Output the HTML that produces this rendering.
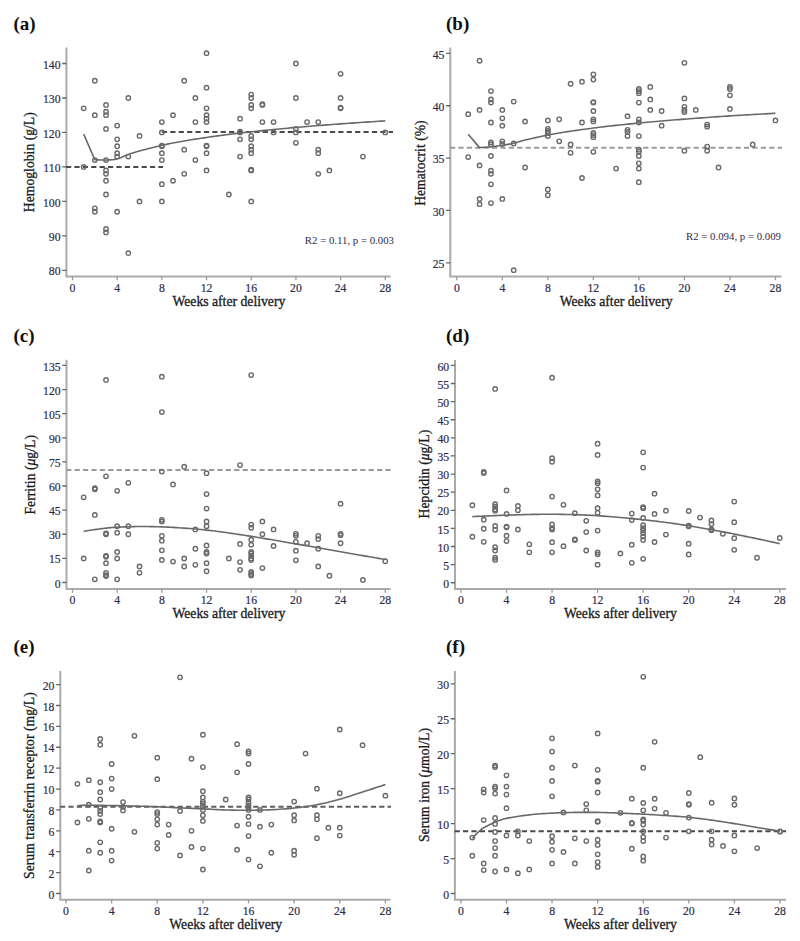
<!DOCTYPE html>
<html><head><meta charset="utf-8"><title>Figure</title>
<style>
html,body{margin:0;padding:0;background:#fff;}
body{width:800px;height:941px;overflow:hidden;}
svg{display:block;font-family:"Liberation Serif",serif;}
</style></head>
<body>
<svg width="800" height="941" viewBox="0 0 800 941">
<rect width="800" height="941" fill="#fff"/>
<path d="M66.4 47.5V276.5H390.6" fill="none" stroke="#aaaaaa" stroke-width="2"/>
<path d="M62.2 270.38H66.4M62.2 235.9H66.4M62.2 201.42H66.4M62.2 166.94H66.4M62.2 132.46H66.4M62.2 97.98H66.4M62.2 63.5H66.4" stroke="#666666" stroke-width="1.3"/>
<path d="M72.5 276.5V280.3M117.18 276.5V280.3M161.86 276.5V280.3M206.54 276.5V280.3M251.22 276.5V280.3M295.9 276.5V280.3M340.58 276.5V280.3M385.26 276.5V280.3" stroke="#9a9a9a" stroke-width="1.3"/>
<g font-size="12.6" fill="#2e2a4a" stroke="#2e2a4a" stroke-width="0.2"><text transform="translate(60.5 275.48) scale(0.93 1)" text-anchor="end">80</text><text transform="translate(60.5 241) scale(0.93 1)" text-anchor="end">90</text><text transform="translate(60.5 206.52) scale(0.93 1)" text-anchor="end">100</text><text transform="translate(60.5 172.04) scale(0.93 1)" text-anchor="end">110</text><text transform="translate(60.5 137.56) scale(0.93 1)" text-anchor="end">120</text><text transform="translate(60.5 103.08) scale(0.93 1)" text-anchor="end">130</text><text transform="translate(60.5 68.6) scale(0.93 1)" text-anchor="end">140</text><text transform="translate(72.5 291.55) scale(0.93 1)" text-anchor="middle">0</text><text transform="translate(117.18 291.55) scale(0.93 1)" text-anchor="middle">4</text><text transform="translate(161.86 291.55) scale(0.93 1)" text-anchor="middle">8</text><text transform="translate(206.54 291.55) scale(0.93 1)" text-anchor="middle">12</text><text transform="translate(251.22 291.55) scale(0.93 1)" text-anchor="middle">16</text><text transform="translate(295.9 291.55) scale(0.93 1)" text-anchor="middle">20</text><text transform="translate(340.58 291.55) scale(0.93 1)" text-anchor="middle">24</text><text transform="translate(385.26 291.55) scale(0.93 1)" text-anchor="middle">28</text></g>
<text x="228.88" y="306" text-anchor="middle" font-size="13.7" fill="#1a1a22" stroke="#1a1a22" stroke-width="0.3">Weeks after delivery</text>
<text transform="translate(34 162.2) rotate(-90)" text-anchor="middle" font-size="13.7" fill="#1a1a22" stroke="#1a1a22" stroke-width="0.3">Hemoglobin (g/L)</text>
<text x="13.5" y="30" font-size="19" font-weight="bold" fill="#111">(a)</text>
<text x="394" y="244" text-anchor="end" font-size="10.8" fill="#2e2a4a">R2 = 0.11, p = 0.003</text>
<path d="M66 166.94H163" stroke="#4a4a4a" stroke-width="2.0" stroke-dasharray="5.2 3.2"/>
<path d="M161.9 132.12H393" stroke="#4a4a4a" stroke-width="2.0" stroke-dasharray="5.2 3.2"/>
<path d="M83.67 134.18L94.84 159.7L95.7 159.74L96.85 159.8L98.21 159.87L99.73 159.95L101.33 160.01L102.96 160.06L104.54 160.07L106.01 160.04L107.41 159.99L108.8 159.92L110.2 159.84L111.6 159.73L112.99 159.59L114.39 159.4L115.78 159.15L117.18 158.84L118.58 158.44L119.97 157.95L121.37 157.4L122.77 156.81L124.16 156.2L125.56 155.6L126.95 155.02L128.35 154.49L129.67 154.02L130.88 153.6L132.05 153.19L133.24 152.8L134.51 152.39L135.94 151.96L137.59 151.48L139.52 150.94L141.78 150.33L144.32 149.65L147.08 148.93L149.99 148.18L152.99 147.43L156.01 146.68L158.99 145.98L161.86 145.32L164.65 144.71L167.45 144.13L170.24 143.56L173.03 143.02L175.82 142.49L178.62 141.98L181.41 141.47L184.2 140.98L186.99 140.49L189.78 140.02L192.58 139.56L195.37 139.12L198.16 138.68L200.95 138.26L203.75 137.84L206.54 137.43L209.33 137.02L212.12 136.62L214.92 136.23L217.71 135.85L220.5 135.47L223.29 135.11L226.09 134.75L228.88 134.39L231.67 134.04L234.47 133.71L237.26 133.38L240.05 133.05L242.84 132.73L245.63 132.42L248.43 132.11L251.22 131.8L254.01 131.5L256.81 131.2L259.6 130.91L262.39 130.62L265.18 130.33L267.98 130.05L270.77 129.77L273.56 129.49L276.35 129.22L279.14 128.96L281.94 128.69L284.73 128.43L287.52 128.18L290.31 127.92L293.11 127.67L295.9 127.43L298.69 127.18L301.48 126.94L304.28 126.7L307.07 126.47L309.86 126.24L312.65 126.01L315.45 125.79L318.24 125.56L321.03 125.34L323.82 125.13L326.62 124.91L329.41 124.7L332.2 124.49L334.99 124.28L337.79 124.08L340.58 123.87L343.37 123.67L346.16 123.47L348.96 123.28L351.75 123.08L354.54 122.89L357.34 122.7L360.13 122.51L362.92 122.32L365.87 122.13L369.03 121.92L372.28 121.71L375.49 121.5L378.52 121.31L381.25 121.13L383.54 120.99L385.26 120.87" fill="none" stroke="#686868" stroke-width="1.6" stroke-linejoin="round"/>
<g fill="none" stroke="#6a6a6a" stroke-width="1.4"><circle cx="83.67" cy="108.32" r="2.2"/><circle cx="83.67" cy="166.94" r="2.2"/><circle cx="94.84" cy="80.74" r="2.2"/><circle cx="94.84" cy="115.22" r="2.2"/><circle cx="94.84" cy="160.04" r="2.2"/><circle cx="94.84" cy="208.32" r="2.2"/><circle cx="94.84" cy="211.76" r="2.2"/><circle cx="106.01" cy="104.88" r="2.2"/><circle cx="106.01" cy="111.77" r="2.2"/><circle cx="106.01" cy="115.22" r="2.2"/><circle cx="106.01" cy="129.01" r="2.2"/><circle cx="106.01" cy="160.04" r="2.2"/><circle cx="106.01" cy="170.39" r="2.2"/><circle cx="106.01" cy="173.84" r="2.2"/><circle cx="106.01" cy="180.73" r="2.2"/><circle cx="106.01" cy="194.52" r="2.2"/><circle cx="106.01" cy="229" r="2.2"/><circle cx="106.01" cy="232.45" r="2.2"/><circle cx="117.18" cy="125.56" r="2.2"/><circle cx="117.18" cy="139.36" r="2.2"/><circle cx="117.18" cy="146.25" r="2.2"/><circle cx="117.18" cy="153.15" r="2.2"/><circle cx="117.18" cy="156.6" r="2.2"/><circle cx="117.18" cy="211.76" r="2.2"/><circle cx="128.35" cy="97.98" r="2.2"/><circle cx="128.35" cy="156.6" r="2.2"/><circle cx="128.35" cy="253.14" r="2.2"/><circle cx="139.52" cy="135.91" r="2.2"/><circle cx="139.52" cy="201.42" r="2.2"/><circle cx="161.86" cy="122.12" r="2.2"/><circle cx="161.86" cy="132.46" r="2.2"/><circle cx="161.86" cy="146.25" r="2.2"/><circle cx="161.86" cy="145.56" r="2.2"/><circle cx="161.86" cy="153.15" r="2.2"/><circle cx="161.86" cy="160.04" r="2.2"/><circle cx="161.86" cy="184.18" r="2.2"/><circle cx="161.86" cy="201.42" r="2.2"/><circle cx="173.03" cy="115.22" r="2.2"/><circle cx="173.03" cy="180.73" r="2.2"/><circle cx="184.2" cy="80.74" r="2.2"/><circle cx="184.2" cy="149.7" r="2.2"/><circle cx="184.2" cy="173.84" r="2.2"/><circle cx="195.37" cy="97.98" r="2.2"/><circle cx="195.37" cy="122.12" r="2.2"/><circle cx="195.37" cy="160.04" r="2.2"/><circle cx="206.54" cy="53.16" r="2.2"/><circle cx="206.54" cy="87.64" r="2.2"/><circle cx="206.54" cy="108.32" r="2.2"/><circle cx="206.54" cy="115.22" r="2.2"/><circle cx="206.54" cy="118.67" r="2.2"/><circle cx="206.54" cy="122.12" r="2.2"/><circle cx="206.54" cy="146.25" r="2.2"/><circle cx="206.54" cy="145.56" r="2.2"/><circle cx="206.54" cy="153.15" r="2.2"/><circle cx="206.54" cy="170.39" r="2.2"/><circle cx="228.88" cy="194.52" r="2.2"/><circle cx="240.05" cy="118.67" r="2.2"/><circle cx="240.05" cy="132.46" r="2.2"/><circle cx="240.05" cy="131.77" r="2.2"/><circle cx="240.05" cy="139.36" r="2.2"/><circle cx="240.05" cy="156.6" r="2.2"/><circle cx="251.22" cy="94.53" r="2.2"/><circle cx="251.22" cy="97.98" r="2.2"/><circle cx="251.22" cy="104.88" r="2.2"/><circle cx="251.22" cy="108.32" r="2.2"/><circle cx="251.22" cy="135.91" r="2.2"/><circle cx="251.22" cy="139.36" r="2.2"/><circle cx="251.22" cy="146.25" r="2.2"/><circle cx="251.22" cy="149.7" r="2.2"/><circle cx="251.22" cy="153.15" r="2.2"/><circle cx="251.22" cy="170.39" r="2.2"/><circle cx="251.22" cy="169.7" r="2.2"/><circle cx="251.22" cy="201.42" r="2.2"/><circle cx="262.39" cy="104.88" r="2.2"/><circle cx="262.39" cy="104.19" r="2.2"/><circle cx="262.39" cy="122.12" r="2.2"/><circle cx="273.56" cy="122.12" r="2.2"/><circle cx="273.56" cy="132.46" r="2.2"/><circle cx="295.9" cy="63.5" r="2.2"/><circle cx="295.9" cy="97.98" r="2.2"/><circle cx="295.9" cy="129.01" r="2.2"/><circle cx="295.9" cy="132.46" r="2.2"/><circle cx="295.9" cy="142.8" r="2.2"/><circle cx="307.07" cy="122.12" r="2.2"/><circle cx="318.24" cy="122.12" r="2.2"/><circle cx="318.24" cy="149.7" r="2.2"/><circle cx="318.24" cy="153.15" r="2.2"/><circle cx="318.24" cy="173.84" r="2.2"/><circle cx="329.41" cy="170.39" r="2.2"/><circle cx="340.58" cy="73.84" r="2.2"/><circle cx="340.58" cy="97.98" r="2.2"/><circle cx="340.58" cy="108.32" r="2.2"/><circle cx="340.58" cy="107.63" r="2.2"/><circle cx="362.92" cy="156.6" r="2.2"/><circle cx="385.26" cy="132.46" r="2.2"/></g>
<path d="M450.3 47.5V276.5H781.5" fill="none" stroke="#aaaaaa" stroke-width="2"/>
<path d="M446.1 262.8H450.3M446.1 210.45H450.3M446.1 158.1H450.3M446.1 105.75H450.3M446.1 53.4H450.3" stroke="#666666" stroke-width="1.3"/>
<path d="M456.8 276.5V280.3M502.32 276.5V280.3M547.84 276.5V280.3M593.36 276.5V280.3M638.88 276.5V280.3M684.4 276.5V280.3M729.92 276.5V280.3M775.44 276.5V280.3" stroke="#9a9a9a" stroke-width="1.3"/>
<g font-size="12.6" fill="#2e2a4a" stroke="#2e2a4a" stroke-width="0.2"><text transform="translate(444.4 267.9) scale(0.93 1)" text-anchor="end">25</text><text transform="translate(444.4 215.55) scale(0.93 1)" text-anchor="end">30</text><text transform="translate(444.4 163.2) scale(0.93 1)" text-anchor="end">35</text><text transform="translate(444.4 110.85) scale(0.93 1)" text-anchor="end">40</text><text transform="translate(444.4 58.5) scale(0.93 1)" text-anchor="end">45</text><text transform="translate(456.8 291.55) scale(0.93 1)" text-anchor="middle">0</text><text transform="translate(502.32 291.55) scale(0.93 1)" text-anchor="middle">4</text><text transform="translate(547.84 291.55) scale(0.93 1)" text-anchor="middle">8</text><text transform="translate(593.36 291.55) scale(0.93 1)" text-anchor="middle">12</text><text transform="translate(638.88 291.55) scale(0.93 1)" text-anchor="middle">16</text><text transform="translate(684.4 291.55) scale(0.93 1)" text-anchor="middle">20</text><text transform="translate(729.92 291.55) scale(0.93 1)" text-anchor="middle">24</text><text transform="translate(775.44 291.55) scale(0.93 1)" text-anchor="middle">28</text></g>
<text x="616.12" y="306" text-anchor="middle" font-size="13.7" fill="#1a1a22" stroke="#1a1a22" stroke-width="0.3">Weeks after delivery</text>
<text transform="translate(424.6 163.1) rotate(-90)" text-anchor="middle" font-size="13.7" fill="#1a1a22" stroke="#1a1a22" stroke-width="0.3">Hematocrit (%)</text>
<text x="446" y="30" font-size="19" font-weight="bold" fill="#111">(b)</text>
<text x="781" y="240" text-anchor="end" font-size="10.8" fill="#2e2a4a">R2 = 0.094, p = 0.009</text>
<path d="M450 147.63H782" stroke="#9a9a9a" stroke-width="2.0" stroke-dasharray="5.2 3.2"/>
<path d="M468.18 134.33L479.56 147.63L480.44 147.57L481.6 147.49L482.99 147.4L484.54 147.3L486.17 147.19L487.83 147.07L489.44 146.93L490.94 146.79L492.36 146.64L493.78 146.48L495.21 146.32L496.63 146.14L498.05 145.95L499.48 145.75L500.9 145.54L502.32 145.33L503.74 145.1L505.17 144.87L506.59 144.63L508.01 144.38L509.43 144.12L510.86 143.84L512.28 143.55L513.7 143.23L515.04 142.9L516.28 142.57L517.47 142.21L518.68 141.85L519.98 141.45L521.43 141.03L523.11 140.58L525.08 140.09L527.38 139.55L529.97 138.94L532.78 138.29L535.75 137.62L538.8 136.95L541.88 136.29L544.92 135.65L547.84 135.07L550.69 134.52L553.53 134L556.38 133.5L559.22 133.01L562.07 132.54L564.91 132.08L567.75 131.63L570.6 131.19L573.45 130.76L576.29 130.35L579.13 129.94L581.98 129.55L584.83 129.17L587.67 128.79L590.51 128.42L593.36 128.05L596.21 127.69L599.05 127.33L601.89 126.98L604.74 126.64L607.59 126.3L610.43 125.97L613.27 125.65L616.12 125.33L618.97 125.02L621.81 124.72L624.65 124.43L627.5 124.14L630.35 123.86L633.19 123.58L636.03 123.3L638.88 123.03L641.73 122.75L644.57 122.48L647.41 122.21L650.26 121.95L653.11 121.68L655.95 121.43L658.79 121.18L661.64 120.93L664.49 120.69L667.33 120.46L670.17 120.24L673.02 120.02L675.87 119.8L678.71 119.58L681.56 119.37L684.4 119.15L687.25 118.94L690.09 118.72L692.94 118.51L695.78 118.3L698.63 118.09L701.47 117.89L704.32 117.68L707.16 117.48L710.01 117.27L712.85 117.07L715.7 116.87L718.54 116.67L721.39 116.47L724.23 116.28L727.08 116.09L729.92 115.91L732.77 115.73L735.61 115.55L738.46 115.38L741.3 115.21L744.15 115.04L746.99 114.87L749.84 114.71L752.68 114.54L755.68 114.37L758.9 114.19L762.22 114.01L765.48 113.83L768.57 113.66L771.35 113.51L773.68 113.38L775.44 113.29" fill="none" stroke="#686868" stroke-width="1.6" stroke-linejoin="round"/>
<g fill="none" stroke="#6a6a6a" stroke-width="1.4"><circle cx="468.18" cy="114.13" r="2.2"/><circle cx="468.18" cy="157.05" r="2.2"/><circle cx="479.56" cy="60.73" r="2.2"/><circle cx="479.56" cy="109.94" r="2.2"/><circle cx="479.56" cy="165.43" r="2.2"/><circle cx="479.56" cy="198.93" r="2.2"/><circle cx="479.56" cy="204.17" r="2.2"/><circle cx="490.94" cy="91.09" r="2.2"/><circle cx="490.94" cy="99.47" r="2.2"/><circle cx="490.94" cy="102.61" r="2.2"/><circle cx="490.94" cy="122.5" r="2.2"/><circle cx="490.94" cy="142.4" r="2.2"/><circle cx="490.94" cy="144.49" r="2.2"/><circle cx="490.94" cy="156.01" r="2.2"/><circle cx="490.94" cy="170.66" r="2.2"/><circle cx="490.94" cy="173.81" r="2.2"/><circle cx="490.94" cy="184.28" r="2.2"/><circle cx="490.94" cy="203.12" r="2.2"/><circle cx="502.32" cy="109.94" r="2.2"/><circle cx="502.32" cy="118.31" r="2.2"/><circle cx="502.32" cy="125.64" r="2.2"/><circle cx="502.32" cy="141.35" r="2.2"/><circle cx="502.32" cy="143.97" r="2.2"/><circle cx="502.32" cy="198.93" r="2.2"/><circle cx="513.7" cy="101.56" r="2.2"/><circle cx="513.7" cy="143.44" r="2.2"/><circle cx="513.7" cy="270.13" r="2.2"/><circle cx="525.08" cy="121.46" r="2.2"/><circle cx="525.08" cy="167.52" r="2.2"/><circle cx="547.84" cy="120.41" r="2.2"/><circle cx="547.84" cy="128.78" r="2.2"/><circle cx="547.84" cy="130.88" r="2.2"/><circle cx="547.84" cy="132.97" r="2.2"/><circle cx="547.84" cy="136.11" r="2.2"/><circle cx="547.84" cy="189.51" r="2.2"/><circle cx="547.84" cy="195.27" r="2.2"/><circle cx="559.22" cy="119.36" r="2.2"/><circle cx="559.22" cy="141.35" r="2.2"/><circle cx="570.6" cy="83.76" r="2.2"/><circle cx="570.6" cy="144.49" r="2.2"/><circle cx="570.6" cy="152.87" r="2.2"/><circle cx="581.98" cy="81.67" r="2.2"/><circle cx="581.98" cy="122.5" r="2.2"/><circle cx="581.98" cy="177.99" r="2.2"/><circle cx="593.36" cy="74.34" r="2.2"/><circle cx="593.36" cy="79.58" r="2.2"/><circle cx="593.36" cy="102.61" r="2.2"/><circle cx="593.36" cy="102.09" r="2.2"/><circle cx="593.36" cy="110.98" r="2.2"/><circle cx="593.36" cy="119.36" r="2.2"/><circle cx="593.36" cy="121.46" r="2.2"/><circle cx="593.36" cy="132.97" r="2.2"/><circle cx="593.36" cy="135.07" r="2.2"/><circle cx="593.36" cy="137.16" r="2.2"/><circle cx="593.36" cy="151.82" r="2.2"/><circle cx="616.12" cy="168.57" r="2.2"/><circle cx="627.5" cy="116.22" r="2.2"/><circle cx="627.5" cy="129.83" r="2.2"/><circle cx="627.5" cy="131.93" r="2.2"/><circle cx="627.5" cy="136.11" r="2.2"/><circle cx="638.88" cy="89" r="2.2"/><circle cx="638.88" cy="91.09" r="2.2"/><circle cx="638.88" cy="93.19" r="2.2"/><circle cx="638.88" cy="102.61" r="2.2"/><circle cx="638.88" cy="119.36" r="2.2"/><circle cx="638.88" cy="122.5" r="2.2"/><circle cx="638.88" cy="136.11" r="2.2"/><circle cx="638.88" cy="149.72" r="2.2"/><circle cx="638.88" cy="151.82" r="2.2"/><circle cx="638.88" cy="156.01" r="2.2"/><circle cx="638.88" cy="163.34" r="2.2"/><circle cx="638.88" cy="168.57" r="2.2"/><circle cx="638.88" cy="182.18" r="2.2"/><circle cx="650.26" cy="86.9" r="2.2"/><circle cx="650.26" cy="99.47" r="2.2"/><circle cx="650.26" cy="109.94" r="2.2"/><circle cx="661.64" cy="110.98" r="2.2"/><circle cx="661.64" cy="125.64" r="2.2"/><circle cx="684.4" cy="62.82" r="2.2"/><circle cx="684.4" cy="98.42" r="2.2"/><circle cx="684.4" cy="106.8" r="2.2"/><circle cx="684.4" cy="109.94" r="2.2"/><circle cx="684.4" cy="112.03" r="2.2"/><circle cx="684.4" cy="150.77" r="2.2"/><circle cx="695.78" cy="109.94" r="2.2"/><circle cx="707.16" cy="124.6" r="2.2"/><circle cx="707.16" cy="126.69" r="2.2"/><circle cx="707.16" cy="146.58" r="2.2"/><circle cx="707.16" cy="150.77" r="2.2"/><circle cx="718.54" cy="167.52" r="2.2"/><circle cx="729.92" cy="86.9" r="2.2"/><circle cx="729.92" cy="89" r="2.2"/><circle cx="729.92" cy="95.28" r="2.2"/><circle cx="729.92" cy="108.89" r="2.2"/><circle cx="752.68" cy="144.49" r="2.2"/><circle cx="775.44" cy="120.41" r="2.2"/></g>
<path d="M66.5 359.75V588.9H390.6" fill="none" stroke="#aaaaaa" stroke-width="2"/>
<path d="M62.3 582.5H66.5M62.3 558.38H66.5M62.3 534.26H66.5M62.3 510.14H66.5M62.3 486.02H66.5M62.3 461.9H66.5M62.3 437.78H66.5M62.3 413.66H66.5M62.3 389.54H66.5M62.3 365.42H66.5" stroke="#666666" stroke-width="1.3"/>
<path d="M72.5 588.9V592.7M117.18 588.9V592.7M161.86 588.9V592.7M206.54 588.9V592.7M251.22 588.9V592.7M295.9 588.9V592.7M340.58 588.9V592.7M385.26 588.9V592.7" stroke="#9a9a9a" stroke-width="1.3"/>
<g font-size="12.6" fill="#2e2a4a" stroke="#2e2a4a" stroke-width="0.2"><text transform="translate(60.6 587.6) scale(0.93 1)" text-anchor="end">0</text><text transform="translate(60.6 563.48) scale(0.93 1)" text-anchor="end">15</text><text transform="translate(60.6 539.36) scale(0.93 1)" text-anchor="end">30</text><text transform="translate(60.6 515.24) scale(0.93 1)" text-anchor="end">45</text><text transform="translate(60.6 491.12) scale(0.93 1)" text-anchor="end">60</text><text transform="translate(60.6 467) scale(0.93 1)" text-anchor="end">75</text><text transform="translate(60.6 442.88) scale(0.93 1)" text-anchor="end">90</text><text transform="translate(60.6 418.76) scale(0.93 1)" text-anchor="end">105</text><text transform="translate(60.6 394.64) scale(0.93 1)" text-anchor="end">120</text><text transform="translate(60.6 370.52) scale(0.93 1)" text-anchor="end">135</text><text transform="translate(72.5 603.95) scale(0.93 1)" text-anchor="middle">0</text><text transform="translate(117.18 603.95) scale(0.93 1)" text-anchor="middle">4</text><text transform="translate(161.86 603.95) scale(0.93 1)" text-anchor="middle">8</text><text transform="translate(206.54 603.95) scale(0.93 1)" text-anchor="middle">12</text><text transform="translate(251.22 603.95) scale(0.93 1)" text-anchor="middle">16</text><text transform="translate(295.9 603.95) scale(0.93 1)" text-anchor="middle">20</text><text transform="translate(340.58 603.95) scale(0.93 1)" text-anchor="middle">24</text><text transform="translate(385.26 603.95) scale(0.93 1)" text-anchor="middle">28</text></g>
<text x="228.88" y="618.4" text-anchor="middle" font-size="13.7" fill="#1a1a22" stroke="#1a1a22" stroke-width="0.3">Weeks after delivery</text>
<text transform="translate(34.5 474.8) rotate(-90)" text-anchor="middle" font-size="13.7" fill="#1a1a22" stroke="#1a1a22" stroke-width="0.3">Ferritin (<tspan font-style="italic">μ</tspan>g/L)</text>
<text x="13.5" y="342" font-size="19" font-weight="bold" fill="#111">(c)</text>
<path d="M66.2 469.94H391" stroke="#9a9a9a" stroke-width="2.0" stroke-dasharray="5.2 3.2"/>
<path d="M83.67 531.37L84.53 531.23L85.68 531.04L87.04 530.82L88.56 530.57L90.16 530.31L91.79 530.06L93.37 529.81L94.84 529.6L96.24 529.4L97.63 529.2L99.03 529.01L100.42 528.82L101.82 528.64L103.22 528.47L104.61 528.31L106.01 528.15L107.33 528L108.54 527.87L109.71 527.74L110.9 527.62L112.17 527.5L113.6 527.39L115.25 527.29L117.18 527.18L119.44 527.08L121.98 526.98L124.74 526.88L127.65 526.78L130.65 526.7L133.67 526.63L136.65 526.57L139.52 526.54L142.31 526.53L145.1 526.53L147.9 526.55L150.69 526.58L153.48 526.63L156.28 526.69L159.07 526.77L161.86 526.86L164.65 526.97L167.45 527.1L170.24 527.25L173.03 527.41L175.82 527.58L178.62 527.76L181.41 527.95L184.2 528.15L186.99 528.35L189.78 528.56L192.58 528.78L195.37 529.01L198.16 529.26L200.95 529.51L203.75 529.79L206.54 530.08L209.33 530.39L212.12 530.72L214.92 531.07L217.71 531.44L220.5 531.81L223.29 532.19L226.09 532.58L228.88 532.97L231.67 533.37L234.47 533.78L237.26 534.19L240.05 534.61L242.84 535.04L245.63 535.47L248.43 535.91L251.22 536.35L254.01 536.8L256.81 537.25L259.6 537.71L262.39 538.17L265.18 538.64L267.98 539.11L270.77 539.58L273.56 540.05L276.35 540.52L279.14 541L281.94 541.48L284.73 541.97L287.52 542.45L290.31 542.94L293.11 543.42L295.9 543.91L298.69 544.39L301.48 544.87L304.28 545.35L307.07 545.83L309.86 546.31L312.65 546.79L315.45 547.28L318.24 547.77L321.03 548.26L323.82 548.76L326.62 549.27L329.41 549.78L332.2 550.28L334.99 550.79L337.79 551.29L340.58 551.79L343.37 552.28L346.16 552.76L348.96 553.25L351.75 553.73L354.54 554.21L357.34 554.69L360.13 555.17L362.92 555.65L365.87 556.16L369.03 556.7L372.28 557.26L375.49 557.82L378.52 558.34L381.25 558.81L383.54 559.21L385.26 559.51" fill="none" stroke="#686868" stroke-width="1.6" stroke-linejoin="round"/>
<g fill="none" stroke="#6a6a6a" stroke-width="1.4"><circle cx="83.67" cy="497.28" r="2.2"/><circle cx="83.67" cy="558.38" r="2.2"/><circle cx="94.84" cy="489.24" r="2.2"/><circle cx="94.84" cy="488.27" r="2.2"/><circle cx="94.84" cy="514.96" r="2.2"/><circle cx="94.84" cy="579.28" r="2.2"/><circle cx="106.01" cy="379.89" r="2.2"/><circle cx="106.01" cy="476.37" r="2.2"/><circle cx="106.01" cy="534.26" r="2.2"/><circle cx="106.01" cy="533.3" r="2.2"/><circle cx="106.01" cy="556.77" r="2.2"/><circle cx="106.01" cy="555.81" r="2.2"/><circle cx="106.01" cy="563.2" r="2.2"/><circle cx="106.01" cy="572.85" r="2.2"/><circle cx="106.01" cy="576.07" r="2.2"/><circle cx="106.01" cy="575.1" r="2.2"/><circle cx="117.18" cy="490.84" r="2.2"/><circle cx="117.18" cy="526.22" r="2.2"/><circle cx="117.18" cy="532.65" r="2.2"/><circle cx="117.18" cy="551.95" r="2.2"/><circle cx="117.18" cy="558.38" r="2.2"/><circle cx="117.18" cy="579.28" r="2.2"/><circle cx="128.35" cy="482.8" r="2.2"/><circle cx="128.35" cy="526.22" r="2.2"/><circle cx="128.35" cy="534.26" r="2.2"/><circle cx="139.52" cy="566.42" r="2.2"/><circle cx="139.52" cy="572.85" r="2.2"/><circle cx="161.86" cy="376.68" r="2.2"/><circle cx="161.86" cy="412.05" r="2.2"/><circle cx="161.86" cy="471.55" r="2.2"/><circle cx="161.86" cy="519.79" r="2.2"/><circle cx="161.86" cy="521.4" r="2.2"/><circle cx="161.86" cy="535.87" r="2.2"/><circle cx="161.86" cy="540.69" r="2.2"/><circle cx="161.86" cy="550.34" r="2.2"/><circle cx="161.86" cy="559.99" r="2.2"/><circle cx="173.03" cy="484.41" r="2.2"/><circle cx="173.03" cy="561.6" r="2.2"/><circle cx="184.2" cy="466.72" r="2.2"/><circle cx="184.2" cy="558.38" r="2.2"/><circle cx="184.2" cy="566.42" r="2.2"/><circle cx="195.37" cy="529.44" r="2.2"/><circle cx="195.37" cy="548.73" r="2.2"/><circle cx="195.37" cy="564.81" r="2.2"/><circle cx="206.54" cy="473.16" r="2.2"/><circle cx="206.54" cy="494.06" r="2.2"/><circle cx="206.54" cy="508.53" r="2.2"/><circle cx="206.54" cy="521.4" r="2.2"/><circle cx="206.54" cy="526.22" r="2.2"/><circle cx="206.54" cy="545.52" r="2.2"/><circle cx="206.54" cy="551.95" r="2.2"/><circle cx="206.54" cy="553.56" r="2.2"/><circle cx="206.54" cy="563.2" r="2.2"/><circle cx="206.54" cy="571.24" r="2.2"/><circle cx="228.88" cy="558.38" r="2.2"/><circle cx="240.05" cy="465.12" r="2.2"/><circle cx="240.05" cy="543.91" r="2.2"/><circle cx="240.05" cy="562.08" r="2.2"/><circle cx="240.05" cy="569.8" r="2.2"/><circle cx="251.22" cy="375.07" r="2.2"/><circle cx="251.22" cy="524.61" r="2.2"/><circle cx="251.22" cy="527.83" r="2.2"/><circle cx="251.22" cy="539.73" r="2.2"/><circle cx="251.22" cy="544.71" r="2.2"/><circle cx="251.22" cy="551.95" r="2.2"/><circle cx="251.22" cy="553.56" r="2.2"/><circle cx="251.22" cy="555.97" r="2.2"/><circle cx="251.22" cy="558.38" r="2.2"/><circle cx="251.22" cy="559.99" r="2.2"/><circle cx="251.22" cy="571.89" r="2.2"/><circle cx="251.22" cy="573.98" r="2.2"/><circle cx="251.22" cy="575.42" r="2.2"/><circle cx="262.39" cy="521.4" r="2.2"/><circle cx="262.39" cy="534.26" r="2.2"/><circle cx="262.39" cy="568.03" r="2.2"/><circle cx="273.56" cy="529.44" r="2.2"/><circle cx="273.56" cy="546" r="2.2"/><circle cx="295.9" cy="533.78" r="2.2"/><circle cx="295.9" cy="535.87" r="2.2"/><circle cx="295.9" cy="541.82" r="2.2"/><circle cx="295.9" cy="550.66" r="2.2"/><circle cx="295.9" cy="560.31" r="2.2"/><circle cx="307.07" cy="543.26" r="2.2"/><circle cx="318.24" cy="535.87" r="2.2"/><circle cx="318.24" cy="539.08" r="2.2"/><circle cx="318.24" cy="548.73" r="2.2"/><circle cx="318.24" cy="566.42" r="2.2"/><circle cx="329.41" cy="575.75" r="2.2"/><circle cx="340.58" cy="503.71" r="2.2"/><circle cx="340.58" cy="533.78" r="2.2"/><circle cx="340.58" cy="535.22" r="2.2"/><circle cx="340.58" cy="543.26" r="2.2"/><circle cx="362.92" cy="579.93" r="2.2"/><circle cx="385.26" cy="561.27" r="2.2"/></g>
<path d="M455 360V588.9H786" fill="none" stroke="#aaaaaa" stroke-width="2"/>
<path d="M450.8 582.75H455M450.8 564.64H455M450.8 546.52H455M450.8 528.41H455M450.8 510.3H455M450.8 492.19H455M450.8 474.07H455M450.8 455.96H455M450.8 437.85H455M450.8 419.74H455M450.8 401.62H455M450.8 383.51H455M450.8 365.4H455" stroke="#666666" stroke-width="1.3"/>
<path d="M461 588.9V592.7M506.54 588.9V592.7M552.07 588.9V592.7M597.61 588.9V592.7M643.14 588.9V592.7M688.68 588.9V592.7M734.22 588.9V592.7M779.75 588.9V592.7" stroke="#9a9a9a" stroke-width="1.3"/>
<g font-size="12.6" fill="#2e2a4a" stroke="#2e2a4a" stroke-width="0.2"><text transform="translate(449.1 587.85) scale(0.93 1)" text-anchor="end">0</text><text transform="translate(449.1 569.74) scale(0.93 1)" text-anchor="end">5</text><text transform="translate(449.1 551.62) scale(0.93 1)" text-anchor="end">10</text><text transform="translate(449.1 533.51) scale(0.93 1)" text-anchor="end">15</text><text transform="translate(449.1 515.4) scale(0.93 1)" text-anchor="end">20</text><text transform="translate(449.1 497.29) scale(0.93 1)" text-anchor="end">25</text><text transform="translate(449.1 479.18) scale(0.93 1)" text-anchor="end">30</text><text transform="translate(449.1 461.06) scale(0.93 1)" text-anchor="end">35</text><text transform="translate(449.1 442.95) scale(0.93 1)" text-anchor="end">40</text><text transform="translate(449.1 424.84) scale(0.93 1)" text-anchor="end">45</text><text transform="translate(449.1 406.73) scale(0.93 1)" text-anchor="end">50</text><text transform="translate(449.1 388.61) scale(0.93 1)" text-anchor="end">55</text><text transform="translate(449.1 370.5) scale(0.93 1)" text-anchor="end">60</text><text transform="translate(461 603.95) scale(0.93 1)" text-anchor="middle">0</text><text transform="translate(506.54 603.95) scale(0.93 1)" text-anchor="middle">4</text><text transform="translate(552.07 603.95) scale(0.93 1)" text-anchor="middle">8</text><text transform="translate(597.61 603.95) scale(0.93 1)" text-anchor="middle">12</text><text transform="translate(643.14 603.95) scale(0.93 1)" text-anchor="middle">16</text><text transform="translate(688.68 603.95) scale(0.93 1)" text-anchor="middle">20</text><text transform="translate(734.22 603.95) scale(0.93 1)" text-anchor="middle">24</text><text transform="translate(779.75 603.95) scale(0.93 1)" text-anchor="middle">28</text></g>
<text x="620.38" y="618.4" text-anchor="middle" font-size="13.7" fill="#1a1a22" stroke="#1a1a22" stroke-width="0.3">Weeks after delivery</text>
<text transform="translate(429 474.1) rotate(-90)" text-anchor="middle" font-size="13.7" fill="#1a1a22" stroke="#1a1a22" stroke-width="0.3">Hepcidin (<tspan font-style="italic">μ</tspan>g/L)</text>
<text x="446" y="342" font-size="19" font-weight="bold" fill="#111">(d)</text>
<path d="M472.38 516.64L473.18 516.6L474.16 516.55L475.32 516.49L476.65 516.42L478.16 516.35L479.85 516.27L481.72 516.18L483.77 516.1L486.07 516L488.66 515.89L491.47 515.77L494.44 515.65L497.5 515.53L500.58 515.41L503.61 515.3L506.54 515.19L509.38 515.09L512.23 514.98L515.07 514.88L517.92 514.78L520.77 514.69L523.61 514.6L526.46 514.53L529.3 514.47L532.15 514.41L535 514.37L537.84 514.33L540.69 514.31L543.53 514.29L546.38 514.28L549.23 514.28L552.07 514.28L554.92 514.3L557.76 514.32L560.61 514.35L563.46 514.39L566.3 514.43L569.15 514.49L571.99 514.56L574.84 514.65L577.69 514.74L580.53 514.85L583.38 514.97L586.22 515.1L589.07 515.24L591.92 515.39L594.76 515.56L597.61 515.73L600.45 515.92L603.3 516.13L606.15 516.34L608.99 516.57L611.84 516.81L614.68 517.05L617.53 517.3L620.38 517.54L623.22 517.8L626.07 518.05L628.91 518.31L631.76 518.58L634.61 518.85L637.45 519.13L640.3 519.42L643.14 519.72L645.99 520.03L648.84 520.34L651.68 520.67L654.53 521L657.37 521.34L660.22 521.7L663.07 522.06L665.91 522.44L668.76 522.82L671.6 523.22L674.45 523.63L677.3 524.05L680.14 524.48L682.99 524.91L685.83 525.35L688.68 525.8L691.53 526.26L694.37 526.73L697.22 527.2L700.06 527.68L702.91 528.17L705.76 528.67L708.6 529.17L711.45 529.68L714.29 530.2L717.14 530.73L719.99 531.26L722.83 531.8L725.68 532.35L728.52 532.9L731.37 533.46L734.22 534.03L737.06 534.6L739.91 535.17L742.75 535.76L745.6 536.35L748.45 536.94L751.29 537.54L754.14 538.14L756.98 538.74L759.99 539.37L763.21 540.06L766.52 540.77L769.79 541.48L772.88 542.14L775.66 542.74L778 543.25L779.75 543.63" fill="none" stroke="#686868" stroke-width="1.6" stroke-linejoin="round"/>
<g fill="none" stroke="#6a6a6a" stroke-width="1.4"><circle cx="472.38" cy="505.23" r="2.2"/><circle cx="472.38" cy="536.74" r="2.2"/><circle cx="483.77" cy="471.9" r="2.2"/><circle cx="483.77" cy="472.99" r="2.2"/><circle cx="483.77" cy="519.72" r="2.2"/><circle cx="483.77" cy="528.77" r="2.2"/><circle cx="483.77" cy="541.82" r="2.2"/><circle cx="495.15" cy="388.95" r="2.2"/><circle cx="495.15" cy="504.14" r="2.2"/><circle cx="495.15" cy="506.68" r="2.2"/><circle cx="495.15" cy="509.58" r="2.2"/><circle cx="495.15" cy="510.66" r="2.2"/><circle cx="495.15" cy="525.88" r="2.2"/><circle cx="495.15" cy="529.86" r="2.2"/><circle cx="495.15" cy="547.25" r="2.2"/><circle cx="495.15" cy="550.51" r="2.2"/><circle cx="495.15" cy="557.75" r="2.2"/><circle cx="495.15" cy="559.93" r="2.2"/><circle cx="506.54" cy="490.38" r="2.2"/><circle cx="506.54" cy="513.92" r="2.2"/><circle cx="506.54" cy="527.33" r="2.2"/><circle cx="506.54" cy="526.6" r="2.2"/><circle cx="506.54" cy="535.66" r="2.2"/><circle cx="506.54" cy="541.09" r="2.2"/><circle cx="517.92" cy="505.95" r="2.2"/><circle cx="517.92" cy="510.3" r="2.2"/><circle cx="517.92" cy="529.5" r="2.2"/><circle cx="529.3" cy="544.35" r="2.2"/><circle cx="529.3" cy="552.32" r="2.2"/><circle cx="552.07" cy="377.72" r="2.2"/><circle cx="552.07" cy="458.14" r="2.2"/><circle cx="552.07" cy="461.76" r="2.2"/><circle cx="552.07" cy="496.53" r="2.2"/><circle cx="552.07" cy="524.43" r="2.2"/><circle cx="552.07" cy="528.05" r="2.2"/><circle cx="552.07" cy="529.5" r="2.2"/><circle cx="552.07" cy="542.18" r="2.2"/><circle cx="552.07" cy="552.32" r="2.2"/><circle cx="563.46" cy="504.87" r="2.2"/><circle cx="563.46" cy="546.16" r="2.2"/><circle cx="574.84" cy="513.2" r="2.2"/><circle cx="574.84" cy="540" r="2.2"/><circle cx="574.84" cy="539.28" r="2.2"/><circle cx="586.22" cy="520.81" r="2.2"/><circle cx="586.22" cy="532.03" r="2.2"/><circle cx="586.22" cy="550.51" r="2.2"/><circle cx="597.61" cy="443.65" r="2.2"/><circle cx="597.61" cy="454.88" r="2.2"/><circle cx="597.61" cy="481.32" r="2.2"/><circle cx="597.61" cy="483.13" r="2.2"/><circle cx="597.61" cy="489.29" r="2.2"/><circle cx="597.61" cy="495.45" r="2.2"/><circle cx="597.61" cy="508.13" r="2.2"/><circle cx="597.61" cy="512.84" r="2.2"/><circle cx="597.61" cy="530.59" r="2.2"/><circle cx="597.61" cy="552.32" r="2.2"/><circle cx="597.61" cy="554.31" r="2.2"/><circle cx="597.61" cy="564.64" r="2.2"/><circle cx="620.38" cy="553.41" r="2.2"/><circle cx="631.76" cy="513.56" r="2.2"/><circle cx="631.76" cy="520.08" r="2.2"/><circle cx="631.76" cy="544.71" r="2.2"/><circle cx="631.76" cy="562.83" r="2.2"/><circle cx="643.14" cy="452.34" r="2.2"/><circle cx="643.14" cy="467.55" r="2.2"/><circle cx="643.14" cy="507.04" r="2.2"/><circle cx="643.14" cy="508.13" r="2.2"/><circle cx="643.14" cy="517.91" r="2.2"/><circle cx="643.14" cy="525.15" r="2.2"/><circle cx="643.14" cy="528.05" r="2.2"/><circle cx="643.14" cy="530.22" r="2.2"/><circle cx="643.14" cy="533.12" r="2.2"/><circle cx="643.14" cy="536.38" r="2.2"/><circle cx="643.14" cy="540" r="2.2"/><circle cx="643.14" cy="558.84" r="2.2"/><circle cx="654.53" cy="493.64" r="2.2"/><circle cx="654.53" cy="513.92" r="2.2"/><circle cx="654.53" cy="542" r="2.2"/><circle cx="665.91" cy="510.66" r="2.2"/><circle cx="665.91" cy="534.57" r="2.2"/><circle cx="688.68" cy="511.02" r="2.2"/><circle cx="688.68" cy="526.24" r="2.2"/><circle cx="688.68" cy="525.7" r="2.2"/><circle cx="688.68" cy="543.63" r="2.2"/><circle cx="688.68" cy="554.49" r="2.2"/><circle cx="700.06" cy="517.54" r="2.2"/><circle cx="711.45" cy="520.44" r="2.2"/><circle cx="711.45" cy="524.07" r="2.2"/><circle cx="711.45" cy="530.22" r="2.2"/><circle cx="711.45" cy="529.5" r="2.2"/><circle cx="722.83" cy="533.85" r="2.2"/><circle cx="734.22" cy="501.61" r="2.2"/><circle cx="734.22" cy="522.25" r="2.2"/><circle cx="734.22" cy="538.19" r="2.2"/><circle cx="734.22" cy="549.79" r="2.2"/><circle cx="756.98" cy="557.75" r="2.2"/><circle cx="779.75" cy="538.01" r="2.2"/></g>
<path d="M60.3 671V899.8H390.6" fill="none" stroke="#aaaaaa" stroke-width="2"/>
<path d="M56.1 893.5H60.3M56.1 872.61H60.3M56.1 851.72H60.3M56.1 830.83H60.3M56.1 809.94H60.3M56.1 789.05H60.3M56.1 768.16H60.3M56.1 747.27H60.3M56.1 726.38H60.3M56.1 705.49H60.3M56.1 684.6H60.3" stroke="#666666" stroke-width="1.3"/>
<path d="M66 899.8V903.6M111.63 899.8V903.6M157.26 899.8V903.6M202.88 899.8V903.6M248.51 899.8V903.6M294.14 899.8V903.6M339.77 899.8V903.6M385.4 899.8V903.6" stroke="#9a9a9a" stroke-width="1.3"/>
<g font-size="12.6" fill="#2e2a4a" stroke="#2e2a4a" stroke-width="0.2"><text transform="translate(54.4 898.6) scale(0.93 1)" text-anchor="end">0</text><text transform="translate(54.4 877.71) scale(0.93 1)" text-anchor="end">2</text><text transform="translate(54.4 856.82) scale(0.93 1)" text-anchor="end">4</text><text transform="translate(54.4 835.93) scale(0.93 1)" text-anchor="end">6</text><text transform="translate(54.4 815.04) scale(0.93 1)" text-anchor="end">8</text><text transform="translate(54.4 794.15) scale(0.93 1)" text-anchor="end">10</text><text transform="translate(54.4 773.26) scale(0.93 1)" text-anchor="end">12</text><text transform="translate(54.4 752.37) scale(0.93 1)" text-anchor="end">14</text><text transform="translate(54.4 731.48) scale(0.93 1)" text-anchor="end">16</text><text transform="translate(54.4 710.59) scale(0.93 1)" text-anchor="end">18</text><text transform="translate(54.4 689.7) scale(0.93 1)" text-anchor="end">20</text><text transform="translate(66 914.85) scale(0.93 1)" text-anchor="middle">0</text><text transform="translate(111.63 914.85) scale(0.93 1)" text-anchor="middle">4</text><text transform="translate(157.26 914.85) scale(0.93 1)" text-anchor="middle">8</text><text transform="translate(202.88 914.85) scale(0.93 1)" text-anchor="middle">12</text><text transform="translate(248.51 914.85) scale(0.93 1)" text-anchor="middle">16</text><text transform="translate(294.14 914.85) scale(0.93 1)" text-anchor="middle">20</text><text transform="translate(339.77 914.85) scale(0.93 1)" text-anchor="middle">24</text><text transform="translate(385.4 914.85) scale(0.93 1)" text-anchor="middle">28</text></g>
<text x="225.7" y="929.3" text-anchor="middle" font-size="13.7" fill="#1a1a22" stroke="#1a1a22" stroke-width="0.3">Weeks after delivery</text>
<text transform="translate(34 785.6) rotate(-90)" text-anchor="middle" font-size="13.7" fill="#1a1a22" stroke="#1a1a22" stroke-width="0.3">Serum transferrin receptor (mg/L)</text>
<text x="13.5" y="653" font-size="19" font-weight="bold" fill="#111">(e)</text>
<path d="M60 806.81H391" stroke="#5e5e5e" stroke-width="2.0" stroke-dasharray="5.2 3.2"/>
<path d="M77.41 805.55L78.21 805.52L79.19 805.48L80.35 805.43L81.68 805.38L83.2 805.33L84.89 805.28L86.76 805.25L88.81 805.24L91.12 805.25L93.72 805.27L96.53 805.3L99.51 805.34L102.57 805.39L105.66 805.45L108.7 805.5L111.63 805.55L114.48 805.61L117.33 805.66L120.18 805.72L123.03 805.79L125.89 805.86L128.74 805.93L131.59 806L134.44 806.08L137.29 806.15L140.15 806.24L143 806.32L145.85 806.41L148.7 806.5L151.55 806.6L154.4 806.7L157.26 806.81L160.11 806.92L162.96 807.05L165.81 807.18L168.66 807.31L171.51 807.45L174.37 807.58L177.22 807.72L180.07 807.85L182.92 807.98L185.77 808.11L188.63 808.24L191.48 808.37L194.33 808.5L197.18 808.63L200.03 808.76L202.88 808.9L205.74 809.03L208.59 809.17L211.44 809.32L214.29 809.46L217.14 809.6L219.99 809.73L222.85 809.84L225.7 809.94L228.55 810.02L231.4 810.09L234.25 810.15L237.11 810.19L239.96 810.23L242.81 810.25L245.66 810.26L248.51 810.25L251.36 810.24L254.22 810.21L257.07 810.17L259.92 810.12L262.77 810.05L265.62 809.96L268.47 809.86L271.33 809.73L274.18 809.59L277.03 809.43L279.88 809.26L282.73 809.07L285.58 808.86L288.44 808.62L291.29 808.36L294.14 808.06L296.99 807.74L299.84 807.39L302.7 807.02L305.55 806.62L308.4 806.2L311.25 805.74L314.1 805.25L316.95 804.72L319.81 804.15L322.66 803.55L325.51 802.92L328.36 802.25L331.21 801.55L334.06 800.83L336.92 800.07L339.77 799.29L342.62 798.46L345.47 797.59L348.32 796.69L351.17 795.75L354.03 794.81L356.88 793.85L359.73 792.91L362.58 791.97L365.59 791L368.82 789.95L372.14 788.88L375.41 787.81L378.51 786.8L381.3 785.89L383.64 785.13L385.4 784.56" fill="none" stroke="#686868" stroke-width="1.6" stroke-linejoin="round"/>
<g fill="none" stroke="#6a6a6a" stroke-width="1.4"><circle cx="77.41" cy="783.83" r="2.2"/><circle cx="77.41" cy="822.47" r="2.2"/><circle cx="88.81" cy="780.17" r="2.2"/><circle cx="88.81" cy="804.72" r="2.2"/><circle cx="88.81" cy="818.82" r="2.2"/><circle cx="88.81" cy="850.68" r="2.2"/><circle cx="88.81" cy="870.52" r="2.2"/><circle cx="100.22" cy="738.91" r="2.2"/><circle cx="100.22" cy="744.66" r="2.2"/><circle cx="100.22" cy="782.26" r="2.2"/><circle cx="100.22" cy="792.18" r="2.2"/><circle cx="100.22" cy="799.5" r="2.2"/><circle cx="100.22" cy="807.85" r="2.2"/><circle cx="100.22" cy="810.98" r="2.2"/><circle cx="100.22" cy="814.12" r="2.2"/><circle cx="100.22" cy="822.47" r="2.2"/><circle cx="100.22" cy="821.43" r="2.2"/><circle cx="100.22" cy="842.32" r="2.2"/><circle cx="100.22" cy="852.76" r="2.2"/><circle cx="111.63" cy="763.98" r="2.2"/><circle cx="111.63" cy="778.61" r="2.2"/><circle cx="111.63" cy="789.05" r="2.2"/><circle cx="111.63" cy="828.74" r="2.2"/><circle cx="111.63" cy="850.68" r="2.2"/><circle cx="111.63" cy="860.6" r="2.2"/><circle cx="123.03" cy="802.11" r="2.2"/><circle cx="123.03" cy="806.81" r="2.2"/><circle cx="123.03" cy="810.46" r="2.2"/><circle cx="134.44" cy="735.78" r="2.2"/><circle cx="134.44" cy="831.87" r="2.2"/><circle cx="157.26" cy="757.72" r="2.2"/><circle cx="157.26" cy="779.13" r="2.2"/><circle cx="157.26" cy="812.03" r="2.2"/><circle cx="157.26" cy="814.12" r="2.2"/><circle cx="157.26" cy="819.34" r="2.2"/><circle cx="157.26" cy="824.56" r="2.2"/><circle cx="157.26" cy="842.84" r="2.2"/><circle cx="157.26" cy="848.59" r="2.2"/><circle cx="168.66" cy="824.56" r="2.2"/><circle cx="168.66" cy="835.01" r="2.2"/><circle cx="180.07" cy="677.29" r="2.2"/><circle cx="180.07" cy="810.98" r="2.2"/><circle cx="180.07" cy="855.38" r="2.2"/><circle cx="191.48" cy="758.76" r="2.2"/><circle cx="191.48" cy="830.83" r="2.2"/><circle cx="191.48" cy="847.02" r="2.2"/><circle cx="202.88" cy="734.74" r="2.2"/><circle cx="202.88" cy="767.12" r="2.2"/><circle cx="202.88" cy="791.14" r="2.2"/><circle cx="202.88" cy="797.41" r="2.2"/><circle cx="202.88" cy="801.58" r="2.2"/><circle cx="202.88" cy="803.67" r="2.2"/><circle cx="202.88" cy="806.81" r="2.2"/><circle cx="202.88" cy="809.94" r="2.2"/><circle cx="202.88" cy="815.16" r="2.2"/><circle cx="202.88" cy="820.91" r="2.2"/><circle cx="202.88" cy="848.59" r="2.2"/><circle cx="202.88" cy="869.48" r="2.2"/><circle cx="225.7" cy="799.5" r="2.2"/><circle cx="237.1" cy="744.14" r="2.2"/><circle cx="237.1" cy="772.34" r="2.2"/><circle cx="237.1" cy="825.61" r="2.2"/><circle cx="237.1" cy="849.63" r="2.2"/><circle cx="248.51" cy="751.45" r="2.2"/><circle cx="248.51" cy="753.54" r="2.2"/><circle cx="248.51" cy="763.98" r="2.2"/><circle cx="248.51" cy="797.41" r="2.2"/><circle cx="248.51" cy="799.5" r="2.2"/><circle cx="248.51" cy="802.63" r="2.2"/><circle cx="248.51" cy="805.76" r="2.2"/><circle cx="248.51" cy="807.85" r="2.2"/><circle cx="248.51" cy="809.94" r="2.2"/><circle cx="248.51" cy="816.73" r="2.2"/><circle cx="248.51" cy="824.04" r="2.2"/><circle cx="248.51" cy="836.05" r="2.2"/><circle cx="248.51" cy="859.55" r="2.2"/><circle cx="259.92" cy="809.94" r="2.2"/><circle cx="259.92" cy="826.65" r="2.2"/><circle cx="259.92" cy="866.34" r="2.2"/><circle cx="271.33" cy="824.56" r="2.2"/><circle cx="271.33" cy="852.76" r="2.2"/><circle cx="294.14" cy="801.58" r="2.2"/><circle cx="294.14" cy="815.16" r="2.2"/><circle cx="294.14" cy="820.38" r="2.2"/><circle cx="294.14" cy="850.68" r="2.2"/><circle cx="294.14" cy="854.85" r="2.2"/><circle cx="305.55" cy="753.54" r="2.2"/><circle cx="316.95" cy="788.63" r="2.2"/><circle cx="316.95" cy="815.16" r="2.2"/><circle cx="316.95" cy="819.34" r="2.2"/><circle cx="316.95" cy="838.14" r="2.2"/><circle cx="328.36" cy="827.7" r="2.2"/><circle cx="339.77" cy="729.51" r="2.2"/><circle cx="339.77" cy="793.23" r="2.2"/><circle cx="339.77" cy="827.7" r="2.2"/><circle cx="339.77" cy="835.53" r="2.2"/><circle cx="362.58" cy="745.18" r="2.2"/><circle cx="385.4" cy="795.63" r="2.2"/></g>
<path d="M454.9 671V899.8H786" fill="none" stroke="#aaaaaa" stroke-width="2"/>
<path d="M450.7 893.5H454.9M450.7 858.55H454.9M450.7 823.6H454.9M450.7 788.65H454.9M450.7 753.7H454.9M450.7 718.75H454.9M450.7 683.8H454.9" stroke="#666666" stroke-width="1.3"/>
<path d="M460.9 899.8V903.6M506.48 899.8V903.6M552.07 899.8V903.6M597.65 899.8V903.6M643.24 899.8V903.6M688.82 899.8V903.6M734.4 899.8V903.6M779.99 899.8V903.6" stroke="#9a9a9a" stroke-width="1.3"/>
<g font-size="12.6" fill="#2e2a4a" stroke="#2e2a4a" stroke-width="0.2"><text transform="translate(449 898.6) scale(0.93 1)" text-anchor="end">0</text><text transform="translate(449 863.65) scale(0.93 1)" text-anchor="end">5</text><text transform="translate(449 828.7) scale(0.93 1)" text-anchor="end">10</text><text transform="translate(449 793.75) scale(0.93 1)" text-anchor="end">15</text><text transform="translate(449 758.8) scale(0.93 1)" text-anchor="end">20</text><text transform="translate(449 723.85) scale(0.93 1)" text-anchor="end">25</text><text transform="translate(449 688.9) scale(0.93 1)" text-anchor="end">30</text><text transform="translate(460.9 914.85) scale(0.93 1)" text-anchor="middle">0</text><text transform="translate(506.48 914.85) scale(0.93 1)" text-anchor="middle">4</text><text transform="translate(552.07 914.85) scale(0.93 1)" text-anchor="middle">8</text><text transform="translate(597.65 914.85) scale(0.93 1)" text-anchor="middle">12</text><text transform="translate(643.24 914.85) scale(0.93 1)" text-anchor="middle">16</text><text transform="translate(688.82 914.85) scale(0.93 1)" text-anchor="middle">20</text><text transform="translate(734.4 914.85) scale(0.93 1)" text-anchor="middle">24</text><text transform="translate(779.99 914.85) scale(0.93 1)" text-anchor="middle">28</text></g>
<text x="620.44" y="929.3" text-anchor="middle" font-size="13.7" fill="#1a1a22" stroke="#1a1a22" stroke-width="0.3">Weeks after delivery</text>
<text transform="translate(429 785) rotate(-90)" text-anchor="middle" font-size="13.7" fill="#1a1a22" stroke="#1a1a22" stroke-width="0.3">Serum iron (<tspan font-style="italic">μ</tspan>mol/L)</text>
<text x="446" y="653" font-size="19" font-weight="bold" fill="#111">(f)</text>
<path d="M454.6 831.29H786" stroke="#4a4a4a" stroke-width="2.0" stroke-dasharray="5.2 3.2"/>
<path d="M472.3 838.28L472.74 837.81L473.32 837.18L474.02 836.42L474.79 835.59L475.61 834.72L476.44 833.86L477.24 833.05L477.99 832.34L478.67 831.71L479.28 831.13L479.88 830.58L480.49 830.04L481.14 829.51L481.87 828.97L482.71 828.4L483.69 827.79L484.84 827.13L486.14 826.43L487.55 825.7L489.03 824.95L490.56 824.22L492.11 823.5L493.62 822.82L495.09 822.2L496.43 821.64L497.67 821.11L498.86 820.62L500.07 820.15L501.38 819.7L502.83 819.25L504.51 818.81L506.48 818.36L508.79 817.89L511.38 817.42L514.2 816.94L517.17 816.48L520.23 816.03L523.31 815.61L526.35 815.21L529.28 814.86L532.12 814.55L534.97 814.28L537.82 814.03L540.67 813.81L543.52 813.62L546.37 813.44L549.22 813.27L552.07 813.12L554.92 812.97L557.77 812.85L560.62 812.75L563.46 812.66L566.31 812.58L569.16 812.52L572.01 812.46L574.86 812.42L577.71 812.38L580.56 812.35L583.41 812.33L586.26 812.33L589.11 812.33L591.95 812.35L594.8 812.38L597.65 812.42L600.5 812.47L603.35 812.53L606.2 812.61L609.05 812.7L611.9 812.8L614.75 812.9L617.59 813.01L620.44 813.12L623.29 813.23L626.14 813.34L628.99 813.47L631.84 813.6L634.69 813.73L637.54 813.87L640.39 814.01L643.24 814.16L646.09 814.32L648.93 814.48L651.78 814.65L654.63 814.82L657.48 815L660.33 815.18L663.18 815.37L666.03 815.56L668.88 815.76L671.73 815.95L674.58 816.15L677.42 816.35L680.27 816.56L683.12 816.79L685.97 817.04L688.82 817.31L691.67 817.6L694.52 817.92L697.37 818.25L700.22 818.6L703.07 818.96L705.91 819.33L708.76 819.71L711.61 820.11L714.46 820.51L717.31 820.92L720.16 821.35L723.01 821.79L725.86 822.23L728.71 822.69L731.55 823.14L734.4 823.6L737.25 824.06L740.1 824.54L742.95 825.02L745.8 825.5L748.65 825.99L751.5 826.48L754.35 826.96L757.2 827.44L760.2 827.95L763.43 828.5L766.74 829.06L770.02 829.61L773.11 830.13L775.89 830.6L778.23 830.99L779.99 831.29" fill="none" stroke="#686868" stroke-width="1.6" stroke-linejoin="round"/>
<g fill="none" stroke="#6a6a6a" stroke-width="1.4"><circle cx="472.3" cy="837.58" r="2.2"/><circle cx="472.3" cy="855.75" r="2.2"/><circle cx="483.69" cy="789.35" r="2.2"/><circle cx="483.69" cy="792.49" r="2.2"/><circle cx="483.69" cy="820.11" r="2.2"/><circle cx="483.69" cy="863.44" r="2.2"/><circle cx="483.69" cy="870.08" r="2.2"/><circle cx="495.09" cy="765.58" r="2.2"/><circle cx="495.09" cy="766.98" r="2.2"/><circle cx="495.09" cy="786.55" r="2.2"/><circle cx="495.09" cy="788.3" r="2.2"/><circle cx="495.09" cy="793.54" r="2.2"/><circle cx="495.09" cy="818.01" r="2.2"/><circle cx="495.09" cy="823.95" r="2.2"/><circle cx="495.09" cy="831.99" r="2.2"/><circle cx="495.09" cy="841.08" r="2.2"/><circle cx="495.09" cy="848.07" r="2.2"/><circle cx="495.09" cy="855.75" r="2.2"/><circle cx="495.09" cy="871.48" r="2.2"/><circle cx="506.48" cy="775.37" r="2.2"/><circle cx="506.48" cy="786.55" r="2.2"/><circle cx="506.48" cy="794.59" r="2.2"/><circle cx="506.48" cy="808.22" r="2.2"/><circle cx="506.48" cy="835.48" r="2.2"/><circle cx="506.48" cy="869.38" r="2.2"/><circle cx="517.88" cy="831.29" r="2.2"/><circle cx="517.88" cy="835.48" r="2.2"/><circle cx="517.88" cy="873.23" r="2.2"/><circle cx="529.28" cy="841.08" r="2.2"/><circle cx="529.28" cy="869.38" r="2.2"/><circle cx="552.07" cy="738.32" r="2.2"/><circle cx="552.07" cy="751.6" r="2.2"/><circle cx="552.07" cy="767.68" r="2.2"/><circle cx="552.07" cy="780.96" r="2.2"/><circle cx="552.07" cy="796.34" r="2.2"/><circle cx="552.07" cy="836.18" r="2.2"/><circle cx="552.07" cy="841.77" r="2.2"/><circle cx="552.07" cy="849.81" r="2.2"/><circle cx="552.07" cy="863.44" r="2.2"/><circle cx="563.46" cy="812.42" r="2.2"/><circle cx="563.46" cy="851.91" r="2.2"/><circle cx="574.86" cy="765.58" r="2.2"/><circle cx="574.86" cy="838.28" r="2.2"/><circle cx="574.86" cy="863.44" r="2.2"/><circle cx="586.26" cy="804.03" r="2.2"/><circle cx="586.26" cy="810.32" r="2.2"/><circle cx="586.26" cy="841.08" r="2.2"/><circle cx="597.65" cy="733.43" r="2.2"/><circle cx="597.65" cy="769.78" r="2.2"/><circle cx="597.65" cy="780.96" r="2.2"/><circle cx="597.65" cy="781.66" r="2.2"/><circle cx="597.65" cy="792.49" r="2.2"/><circle cx="597.65" cy="821.85" r="2.2"/><circle cx="597.65" cy="821.15" r="2.2"/><circle cx="597.65" cy="839.68" r="2.2"/><circle cx="597.65" cy="844.92" r="2.2"/><circle cx="597.65" cy="854.36" r="2.2"/><circle cx="597.65" cy="862.04" r="2.2"/><circle cx="597.65" cy="866.94" r="2.2"/><circle cx="620.44" cy="812.84" r="2.2"/><circle cx="631.84" cy="798.72" r="2.2"/><circle cx="631.84" cy="822.9" r="2.2"/><circle cx="631.84" cy="823.6" r="2.2"/><circle cx="631.84" cy="848.76" r="2.2"/><circle cx="643.24" cy="676.81" r="2.2"/><circle cx="643.24" cy="767.68" r="2.2"/><circle cx="643.24" cy="802.98" r="2.2"/><circle cx="643.24" cy="810.32" r="2.2"/><circle cx="643.24" cy="819.41" r="2.2"/><circle cx="643.24" cy="820.8" r="2.2"/><circle cx="643.24" cy="824.58" r="2.2"/><circle cx="643.24" cy="831.29" r="2.2"/><circle cx="643.24" cy="836.88" r="2.2"/><circle cx="643.24" cy="841.08" r="2.2"/><circle cx="643.24" cy="856.45" r="2.2"/><circle cx="643.24" cy="860.65" r="2.2"/><circle cx="654.63" cy="741.82" r="2.2"/><circle cx="654.63" cy="798.72" r="2.2"/><circle cx="654.63" cy="808.57" r="2.2"/><circle cx="666.03" cy="812.84" r="2.2"/><circle cx="666.03" cy="837.58" r="2.2"/><circle cx="688.82" cy="792.98" r="2.2"/><circle cx="688.82" cy="804.03" r="2.2"/><circle cx="688.82" cy="804.73" r="2.2"/><circle cx="688.82" cy="817.59" r="2.2"/><circle cx="688.82" cy="831.29" r="2.2"/><circle cx="700.22" cy="757.19" r="2.2"/><circle cx="711.61" cy="802.63" r="2.2"/><circle cx="711.61" cy="831.29" r="2.2"/><circle cx="711.61" cy="839.68" r="2.2"/><circle cx="711.61" cy="844.57" r="2.2"/><circle cx="723.01" cy="845.97" r="2.2"/><circle cx="734.4" cy="798.44" r="2.2"/><circle cx="734.4" cy="804.73" r="2.2"/><circle cx="734.4" cy="835.48" r="2.2"/><circle cx="734.4" cy="851.28" r="2.2"/><circle cx="757.2" cy="848.07" r="2.2"/><circle cx="779.99" cy="831.29" r="2.2"/><circle cx="779.99" cy="831.64" r="2.2"/></g>
</svg>
</body></html>
